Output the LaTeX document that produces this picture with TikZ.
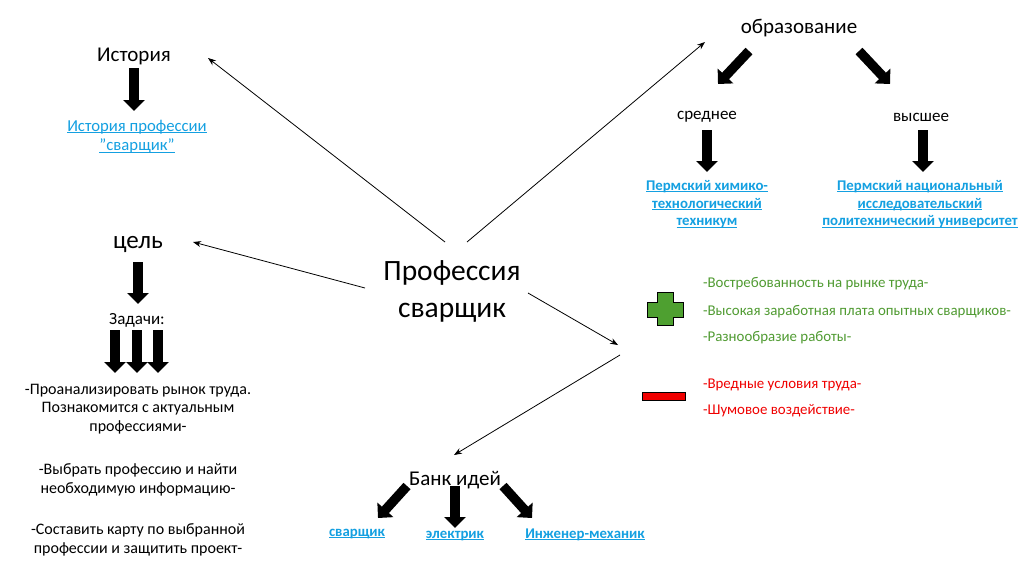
\documentclass[tikz,border=0pt]{standalone}
\usepackage{fontspec}
\setmainfont{Carlito}
\usetikzlibrary{arrows.meta}
\definecolor{linkblue}{RGB}{20,160,225}
\definecolor{plusgreen}{RGB}{78,160,48}
\definecolor{txtgreen}{RGB}{80,155,50}
\definecolor{minusred}{RGB}{240,0,0}
\newcommand\lnk[1]{\underline{\smash{#1}}}
\begin{document}
\begin{tikzpicture}[x=1pt,y=-1pt,
  every node/.style={inner sep=0pt,outer sep=0pt},
  title/.style={font=\fontsize{29.5}{37}\selectfont,align=center},
  head/.style={font=\fontsize{21}{24}\selectfont},
  sub/.style={font=\fontsize{17}{19}\selectfont},
  body/.style={font=\fontsize{16}{18.7}\selectfont,align=center},
  link/.style={font=\fontsize{16.7}{19.5}\selectfont,text=linkblue,align=center},
  blink/.style={font=\bfseries\fontsize{14.8}{17.8}\selectfont,text=linkblue,align=center},
  prolist/.style={font=\fontsize{14.9}{17}\selectfont,text=txtgreen,anchor=west},
  conlist/.style={font=\fontsize{14.9}{17}\selectfont,text=minusred,anchor=west},
  blockarrow/.style={line width=9.5pt,-{Triangle[length=11pt,width=21pt]}},
  thinarrow/.style={line width=0.8pt,-{Stealth[length=8pt,width=6pt]}},
]
\useasboundingbox[fill=white] (0,0) rectangle (1024,576);

% central node
\node[title] (main) at (452,291) {Профессия\\сварщик};

% History
\node[head] (hist) at (134,56) {История};
\node[link] (histlink) at (137,142) {\lnk{История профессии}\\\lnk{"сварщик"}};
\coordinate (h1) at (134,68); \coordinate (h2) at (134,111);
\draw[blockarrow] (h1) -- (h2);

% education
\node[head] (edu) at (799,28) {образование};
\node[sub] (mid) at (707,117) {среднее};
\node[sub] (high) at (921,117) {высшее};
\coordinate (e1) at (749,51); \coordinate (e2) at (718,84);
\coordinate (e3) at (859,51); \coordinate (e4) at (890,84);
\draw[blockarrow] (e1) -- (e2);
\draw[blockarrow] (e3) -- (e4);
\coordinate (m1) at (707,130); \coordinate (m2) at (707,172);
\coordinate (g1) at (923,130); \coordinate (g2) at (923,172);
\draw[blockarrow] (m1) -- (m2);
\draw[blockarrow] (g1) -- (g2);
\node[blink] (midlink) at (707,209) {\lnk{Пермский химико-}\\\lnk{технологический}\\\lnk{техникум}};
\node[blink] (highlink) at (920,209) {\lnk{Пермский национальный}\\\lnk{исследовательский}\\\lnk{политехнический университет}};

% goal
\node[font=\fontsize{25}{28}\selectfont] (goal) at (138,244) {цель};
\coordinate (c1) at (138,262); \coordinate (c2) at (138,304);
\draw[blockarrow] (c1) -- (c2);
\node[sub] (tasks) at (137,320) {Задачи:};
\foreach \x [count=\i] in {115,137,158}{
  \coordinate (t\i a) at (\x,330); \coordinate (t\i b) at (\x,373);
  \draw[blockarrow] (t\i a) -- (t\i b);
}
\node[body] (task1) at (138,409) {-Проанализировать рынок труда.\\Познакомится с актуальным\\профессиями-};
\node[body] (task2) at (138,480) {-Выбрать профессию и найти\\необходимую информацию-};
\node[body] (task3) at (138,540) {-Составить карту по выбранной\\профессии и защитить проект-};

% pros and cons
\node[prolist] (pro1) at (703,284) {-Востребованность на рынке труда-};
\node[prolist] (pro2) at (703,312) {-Высокая заработная плата опытных сварщиков-};
\node[prolist] (pro3) at (703,338) {-Разнообразие работы-};
\node[conlist] (con1) at (703,385) {-Вредные условия труда-};
\node[conlist] (con2) at (703,411) {-Шумовое воздействие-};
\draw[fill=plusgreen,line width=1pt]
  (657,292) -- (673,292) -- (673,302) -- (683,302) -- (683,317) -- (673,317)
  -- (673,325) -- (657,325) -- (657,317) -- (647,317) -- (647,302) -- (657,302) -- cycle;
\draw[fill=minusred,line width=1pt] (642,392) rectangle (685,400);

% bank of ideas
\node[head] (bank) at (455,480) {Банк идей};
\coordinate (b1) at (407,486); \coordinate (b2) at (378,518);
\coordinate (b3) at (455,486); \coordinate (b4) at (455,528);
\coordinate (b5) at (503,486); \coordinate (b6) at (532,518);
\draw[blockarrow] (b1) -- (b2);
\draw[blockarrow] (b3) -- (b4);
\draw[blockarrow] (b5) -- (b6);
\node[blink] (weld) at (357,537) {\lnk{сварщик}};
\node[blink] (elec) at (455,539) {\lnk{электрик}};
\node[blink] (mech) at (585,539) {\lnk{Инженер-механик}};

% thin connectors
\coordinate (a1s) at (445,242); \coordinate (a1e) at (208,58);
\coordinate (a2s) at (467,242); \coordinate (a2e) at (705,42);
\coordinate (a3s) at (365,288); \coordinate (a3e) at (193,242);
\coordinate (a4s) at (528,293); \coordinate (a4e) at (618,345);
\coordinate (a5s) at (620,355); \coordinate (a5e) at (454,455);
\draw[thinarrow] (a1s) -- (a1e);
\draw[thinarrow] (a2s) -- (a2e);
\draw[thinarrow] (a3s) -- (a3e);
\draw[thinarrow] (a4s) -- (a4e);
\draw[thinarrow] (a5s) -- (a5e);
\end{tikzpicture}
\end{document}
